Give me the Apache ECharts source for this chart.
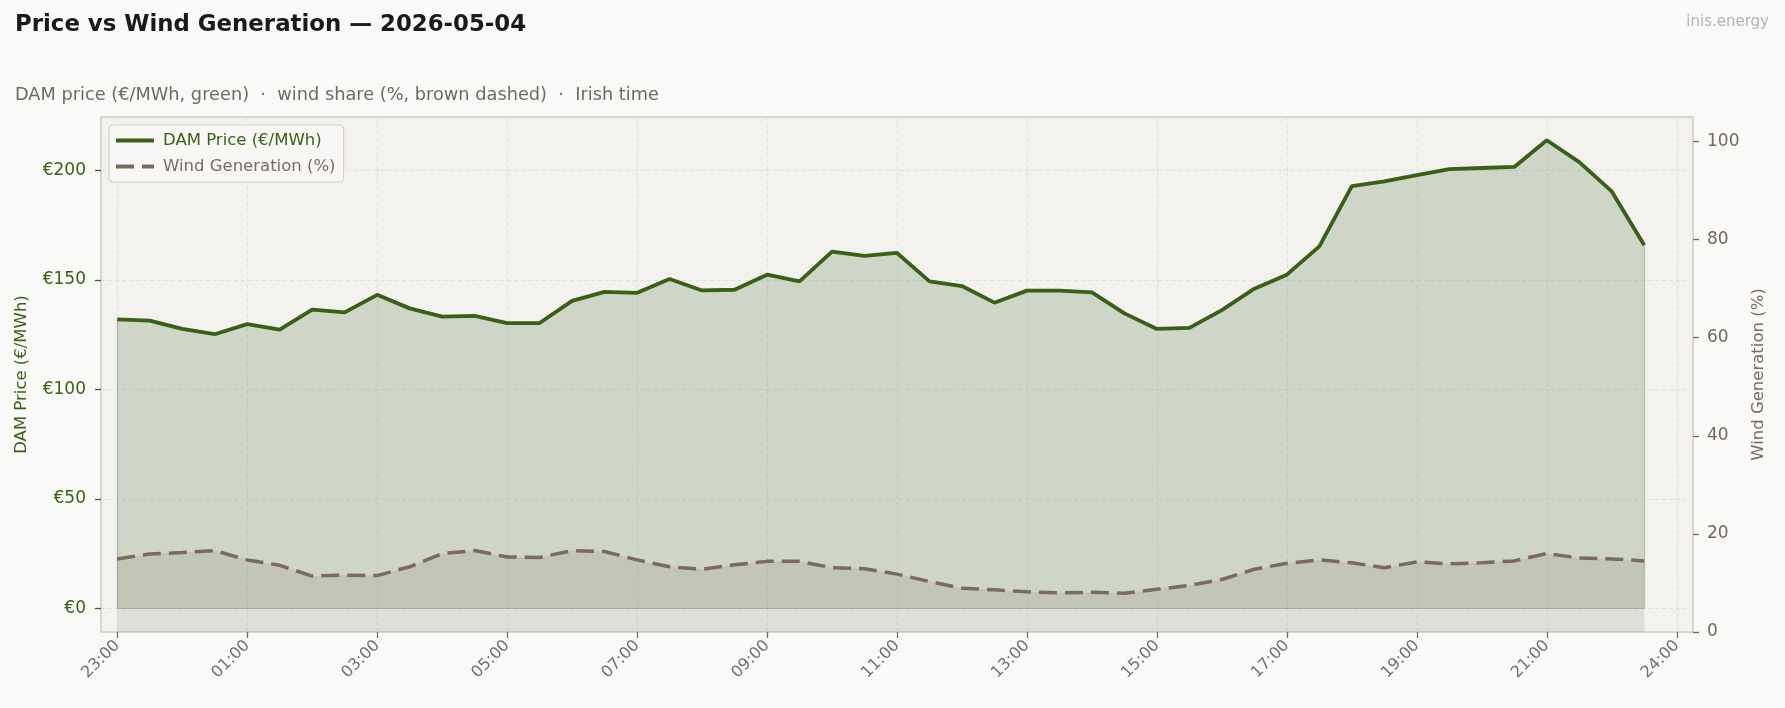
<!DOCTYPE html>
<html>
<head>
<meta charset="utf-8">
<title>Price vs Wind Generation</title>
<script src="https://cdn.jsdelivr.net/npm/echarts@6.0.0/dist/echarts.min.js"></script>
<style>
  html, body { margin: 0; padding: 0; background: #f9f9f7; }
  #chart { width: 1785px; height: 708px; }
</style>
</head>
<body>
<div id="chart"></div>
<script>
// half-hourly slots, Irish time, starting 23:00 the evening before
const times = [
  '23:00', '23:30', '00:00', '00:30', '01:00', '01:30', '02:00', '02:30',
  '03:00', '03:30', '04:00', '04:30', '05:00', '05:30', '06:00', '06:30',
  '07:00', '07:30', '08:00', '08:30', '09:00', '09:30', '10:00', '10:30',
  '11:00', '11:30', '12:00', '12:30', '13:00', '13:30', '14:00', '14:30',
  '15:00', '15:30', '16:00', '16:30', '17:00', '17:30', '18:00', '18:30',
  '19:00', '19:30', '20:00', '20:30', '21:00', '21:30', '22:00', '22:30',
]
const price = [
  132.0, 131.4, 127.6, 125.2, 129.8, 127.3, 136.4, 135.2,
  143.2, 137.0, 133.2, 133.6, 130.3, 130.3, 140.4, 144.5,
  144.1, 150.4, 145.2, 145.5, 152.4, 149.3, 162.9, 161.0,
  162.3, 149.3, 147.2, 139.6, 145.1, 145.1, 144.3, 134.7,
  127.6, 128.1, 136.2, 146.0, 152.4, 165.3, 192.8, 195.0,
  197.9, 200.6, 201.1, 201.6, 213.8, 203.8, 190.4, 165.8,
]
const wind = [
  14.9, 15.9, 16.2, 16.6, 14.7, 13.6, 11.4, 11.6,
  11.5, 13.3, 16.0, 16.6, 15.3, 15.2, 16.6, 16.4,
  14.7, 13.3, 12.8, 13.7, 14.4, 14.4, 13.1, 12.9,
  11.8, 10.3, 8.9, 8.6, 8.2, 8.0, 8.1, 7.9,
  8.7, 9.5, 10.7, 12.8, 14.0, 14.7, 14.1, 13.1,
  14.3, 13.9, 14.1, 14.5, 16.0, 15.1, 14.9, 14.5,
]
const tickHours = [0, 2, 4, 6, 8, 10, 12, 14, 16, 18, 20, 22, 24]
const tickLabels = ['23:00', '01:00', '03:00', '05:00', '07:00', '09:00', '11:00',
  '13:00', '15:00', '17:00', '19:00', '21:00', '24:00']
const priceTicks = [0, 50, 100, 150, 200]
const windTicks = [0, 20, 40, 60, 80, 100]

const GREEN = '#3b5e19'
const BROWN = '#7b6b5c'
const FONT = '"DejaVu Sans", sans-serif'

// hours since 23:00
function toHours(t) {
  const [h, m] = t.split(':').map(Number)
  return (((h * 60 + m) - 23 * 60 + 1440) % 1440) / 60
}
const xs = times.map(toHours)
const priceData = xs.map((x, i) => [x, price[i]])
const windData = xs.map((x, i) => [x, wind[i]])
const xFirst = xs[0]
const xLast = xs[xs.length - 1]

const chart = echarts.init(document.getElementById('chart'))
chart.setOption({
  backgroundColor: '#f9f9f7',
  animation: false,
  textStyle: { fontFamily: FONT },
  graphic: [
    { type: 'text', style: { x: 15, y: 25, text: 'Price vs Wind Generation — 2026-05-04', verticalAlign: 'middle',
      font: 'bold 22.85px "DejaVu Sans", sans-serif', fill: '#1a1a1a' } },
    { type: 'text', style: { x: 15, y: 95, text: 'DAM price (€/MWh, green)  ·  wind share (%, brown dashed)  ·  Irish time',
      verticalAlign: 'middle', font: '17.75px "DejaVu Sans", sans-serif', fill: '#6e6a66' } },
    { type: 'text', style: { x: 1769, y: 22, text: 'inis.energy', align: 'right', verticalAlign: 'middle',
      font: '15px "DejaVu Sans", sans-serif', fill: '#b3b3b3' } },
  ],
  grid: {
    left: 101, right: 92, top: 117, bottom: 76,
    show: true, backgroundColor: '#f3f2ef', borderColor: '#cfcbc4', borderWidth: 1.5,
  },
  legend: {
    left: 109, top: 125, orient: 'vertical',
    itemWidth: 38, itemHeight: 16, itemGap: 9,
    padding: [7, 8, 7, 5],
    backgroundColor: 'rgba(249,248,246,0.85)', borderColor: '#d6d2cb', borderWidth: 1.2, borderRadius: 4,
    itemStyle: { opacity: 0 },
    lineStyle: { width: 4 },
    textStyle: { fontSize: 16.5, fontFamily: FONT, padding: [0, 0, 0, 4] },
    data: [
      { name: 'DAM Price (€/MWh)', textStyle: { color: GREEN } },
      { name: 'Wind Generation (%)', textStyle: { color: BROWN } },
    ],
  },
  xAxis: {
    type: 'value', min: -0.25, max: 24.25,
    axisLine: { show: false, onZero: false },
    axisTick: { customValues: tickHours, length: 6, lineStyle: { color: '#6f6f6f', width: 1.3 } },
    axisLabel: {
      customValues: tickHours, rotate: 45, margin: 11, fontSize: 16, color: '#707070', fontFamily: FONT,
      formatter: (v) => tickLabels[tickHours.indexOf(v)],
    },
    splitLine: { show: true, lineStyle: { color: '#e2e0da', type: [4, 3], width: 1 } },
  },
  yAxis: [
    {
      type: 'value', min: -10.8, max: 224.4,
      name: 'DAM Price (€/MWh)', nameLocation: 'middle', nameGap: 71,
      nameTextStyle: { color: GREEN, fontSize: 16.5, fontFamily: FONT },
      axisLine: { show: false, onZero: false },
      axisTick: { show: true, customValues: priceTicks, length: 6, lineStyle: { color: GREEN, width: 1.3 } },
      axisLabel: { customValues: priceTicks, margin: 15, fontSize: 17, color: GREEN, fontFamily: FONT,
        formatter: (v) => '€' + v },
      splitLine: { show: true, lineStyle: { color: '#e2e0da', type: [4, 3], width: 1 } },
    },
    {
      type: 'value', min: 0, max: 105, position: 'right', alignTicks: false,
      name: 'Wind Generation (%)', nameLocation: 'middle', nameGap: 56,
      nameTextStyle: { color: BROWN, fontSize: 16.5, fontFamily: FONT },
      axisLine: { show: false, onZero: false },
      axisTick: { show: true, customValues: windTicks, length: 6, lineStyle: { color: BROWN, width: 1.3 } },
      axisLabel: { customValues: windTicks, margin: 14, fontSize: 17, color: '#73685e', fontFamily: FONT },
      splitLine: { show: false },
    },
  ],
  series: [
    {
      name: 'DAM Price (€/MWh)',
      type: 'line',
      yAxisIndex: 0,
      data: priceData,
      symbol: 'none',
      z: 3,
      lineStyle: { color: GREEN, width: 3.8 },
      itemStyle: { color: GREEN },
      areaStyle: { color: 'rgba(59,94,25,0.19)', opacity: 1, origin: 0 },
      markLine: {
        silent: true, symbol: 'none', label: { show: false },
        lineStyle: { color: 'rgba(59,94,25,0.28)', width: 1.2, type: 'solid' },
        data: [
          [{ coord: [xFirst, 0] }, { coord: [xLast, 0] }],
          [{ coord: [xFirst, 0] }, { coord: [xFirst, price[0]] }],
          [{ coord: [xLast, 0] }, { coord: [xLast, price[price.length - 1]] }],
        ],
      },
    },
    {
      name: 'Wind Generation (%)',
      type: 'line',
      yAxisIndex: 1,
      data: windData,
      symbol: 'none',
      z: 4,
      lineStyle: { color: BROWN, width: 3.5, type: [18, 8] },
      itemStyle: { color: BROWN },
      areaStyle: { color: 'rgba(123,107,92,0.15)', opacity: 1, origin: 0 },
    },
  ],
})

window.addEventListener('resize', () => chart.resize())
</script>
</body>
</html>
